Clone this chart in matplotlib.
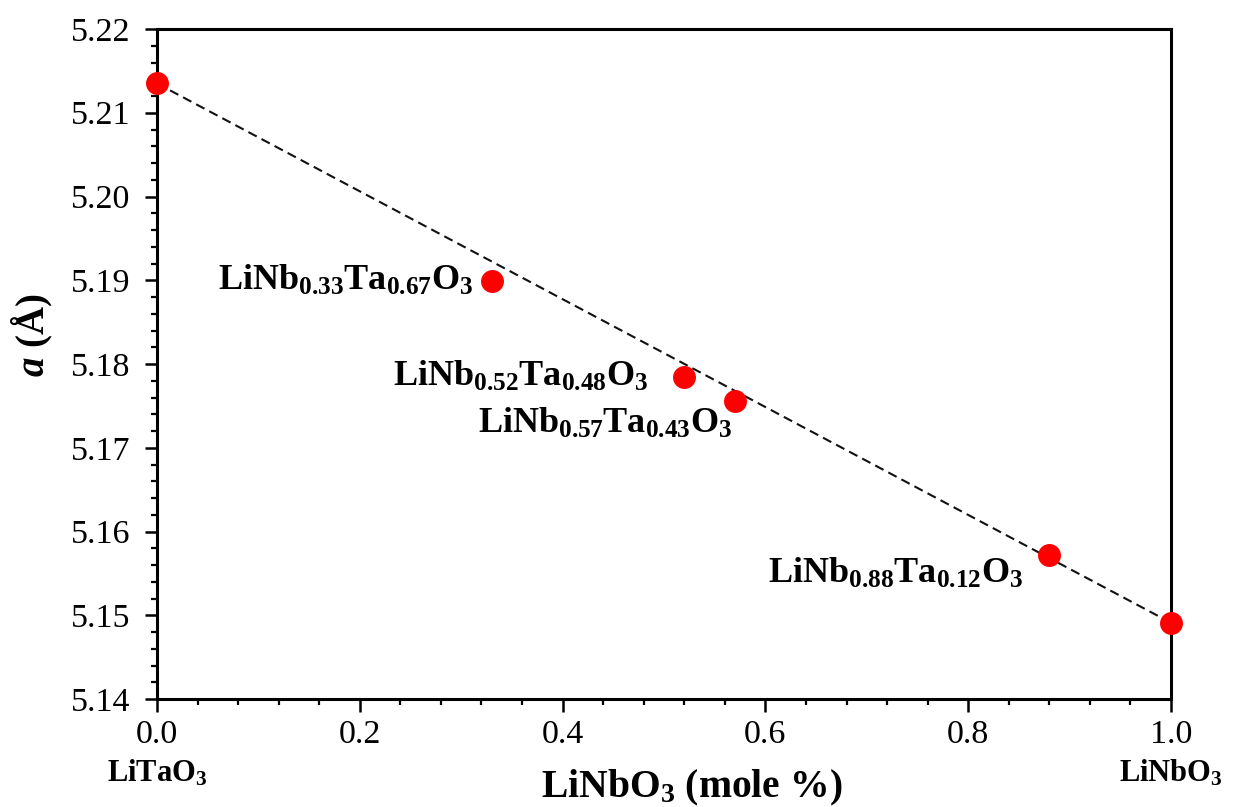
import numpy as np
import matplotlib
matplotlib.use("Agg")
import matplotlib.pyplot as plt
from matplotlib.ticker import MultipleLocator
from matplotlib import transforms

plt.rcParams['font.family'] = ['Liberation Serif', 'DejaVu Serif']
plt.rcParams['mathtext.fontset'] = 'custom'
plt.rcParams['mathtext.rm'] = 'Liberation Serif:bold'
plt.rcParams['mathtext.bf'] = 'Liberation Serif:bold'
plt.rcParams['mathtext.it'] = 'Liberation Serif:bold:italic'

# data
x_frac = [0.0, 0.33, 0.52, 0.57, 0.88, 1.0]
a_lat = [5.2135, 5.1899, 5.1784, 5.1756, 5.1572, 5.1491]
labels = [None,
          r'$\mathbf{LiNb_{0.33}Ta_{0.67}O_3}$',
          r'$\mathbf{LiNb_{0.52}Ta_{0.48}O_3}$',
          r'$\mathbf{LiNb_{0.57}Ta_{0.43}O_3}$',
          r'$\mathbf{LiNb_{0.88}Ta_{0.12}O_3}$',
          None]
# label offsets in points (dx, dy) relative to point, ha right, baseline
offsets = [None, (-13, -6.5), (-26, -6), (-1.5, -23), (-19, -20), None]
xticks = [0.0, 0.2, 0.4, 0.6, 0.8, 1.0]
yticks = [5.14, 5.15, 5.16, 5.17, 5.18, 5.19, 5.20, 5.21, 5.22]

fig = plt.figure(figsize=(12.35, 8.07), dpi=100)
ax = fig.add_axes([157/1235, 1-699/807, (1171-157)/1235, (699-29)/807])

# Vegard's law dashed line between end members
ax.plot([x_frac[0], x_frac[-1]], [a_lat[0], a_lat[-1]], ls=(0, (4.5, 2.6)), color='#111111', lw=1.5, zorder=2)
ax.plot(x_frac, a_lat, 'o', color='#ff0000', ms=15.5, mec='#ff0000', zorder=3, clip_on=False)

for xi, yi, lab, off in zip(x_frac, a_lat, labels, offsets):
    if lab:
        ax.annotate(lab, (xi, yi), xytext=off, textcoords='offset points',
                    ha='right', va='baseline', fontsize=26)

ax.set_xlim(0, 1.0)
ax.set_ylim(5.14, 5.22)
ax.set_xticks(xticks)
ax.set_xticklabels([f'{v:.1f}' for v in xticks])
ax.set_yticks(yticks)
ax.set_yticklabels([f'{v:.2f}' for v in yticks])
ax.xaxis.set_minor_locator(MultipleLocator(0.04))
ax.yaxis.set_minor_locator(MultipleLocator(0.002))
ax.tick_params(which='major', direction='out', length=9, width=1.8, labelsize=24.5)
ax.tick_params(axis='x', which='major', pad=6)
ax.tick_params(axis='y', which='major', pad=10)
ax.tick_params(which='minor', direction='out', length=4.5, width=1.6)
ax.tick_params(top=False, right=False, which='both')
for s in ax.spines.values():
    s.set_linewidth(2.2)

# end member labels
trans = transforms.blended_transform_factory(ax.transData, fig.transFigure)
ax.text(0.0, 1-781/807, r'$\mathbf{LiTaO_3}$', transform=trans, ha='center', va='baseline', fontsize=22)
ax.text(1.0, 1-781/807, r'$\mathbf{LiNbO_3}$', transform=trans, ha='center', va='baseline', fontsize=22)

fig.text(692/1235, 1-797/807, r'$\mathbf{LiNbO_3}$ (mole %)', ha='center', va='baseline',
         fontsize=28.5, fontweight='bold')
fig.text(32/1235, 1-335/807, r'$\mathit{a}$ (Å)', rotation=90, ha='center', va='center',
         fontsize=28, fontweight='bold')

fig.savefig('out.png', dpi=100)
